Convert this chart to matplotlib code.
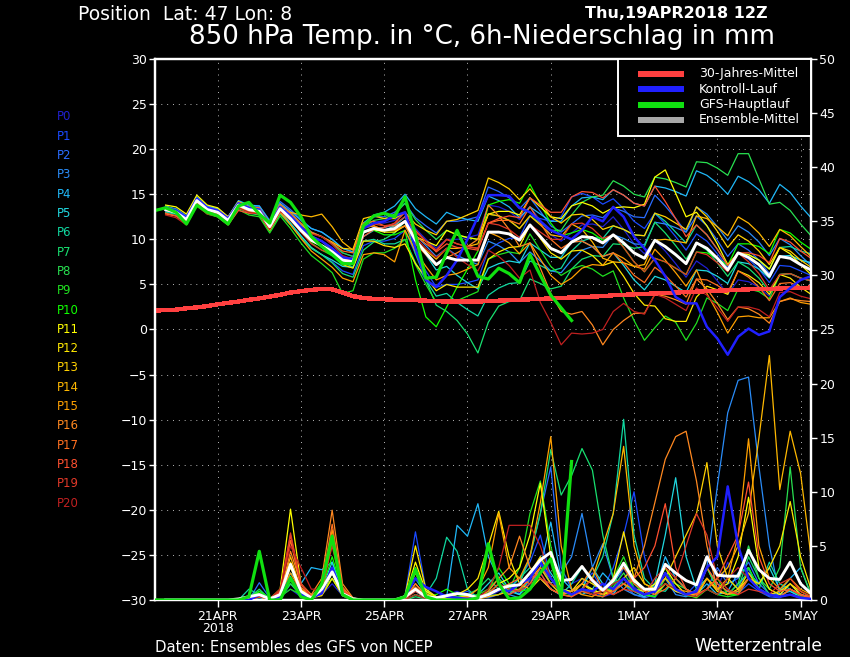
import matplotlib
matplotlib.use("Agg")
import matplotlib.pyplot as plt
from matplotlib.patches import Rectangle
from matplotlib.lines import Line2D

plt.rcParams['font.family'] = ['DejaVu Sans']

# ---------------- time axes (hours after Thu 19 APR 2018 12Z) ----------------
member_hours = list(range(6, 379, 6))     # 63 steps
main_hours = list(range(0, 241, 6))       # GFS main run to 240 h
clim_hours = list(range(0, 379, 6))

xtick_hours = [36, 84, 132, 180, 228, 276, 324, 372]
xtick_labels = ['21APR\n2018', '23APR', '25APR', '27APR', '29APR', '1MAY', '3MAY', '5MAY']

member_names = ['P%d' % i for i in range(21)]
member_colors = ['#2020d0', '#1a4aff', '#2a6cff', '#2a8cf8', '#20b8f8', '#20d8e0',
                 '#10d8a0', '#18e070', '#28e050', '#20e020', '#10ff00', '#ffff00',
                 '#ffe800', '#ffd000', '#ffb800', '#ffa000', '#ff8820', '#ff7020',
                 '#ff5030', '#e03828', '#c02020']

# ---------------- 850 hPa temperature (deg C) ----------------
temp_clim = [2.1, 2.15, 2.2, 2.35, 2.45, 2.6, 2.8, 2.95, 3.1, 3.3, 3.45, 3.65, 3.85, 4.1, 4.25, 4.4,
             4.5, 4.45, 4.1, 3.7, 3.5, 3.4, 3.35, 3.3, 3.3, 3.25, 3.2, 3.15, 3.1, 3.1, 3.1, 3.1,
             3.15, 3.2, 3.25, 3.3, 3.35, 3.4, 3.45, 3.5, 3.55, 3.6, 3.65, 3.7, 3.8, 3.85, 3.9, 3.95,
             4.0, 4.05, 4.1, 4.15, 4.2, 4.25, 4.3, 4.35, 4.4, 4.45, 4.5, 4.5, 4.55, 4.6, 4.6, 4.65]

temp_mean = [13.3, 13.0, 12.2, 14.3, 13.3, 13.0, 12.1, 13.8, 13.3, 13.1, 11.4, 13.4, 12.3, 11.0, 9.9, 9.3,
             8.6, 7.7, 7.5, 10.8, 11.2, 11.0, 11.2, 12.0, 9.9, 8.5, 7.2, 8.0, 7.7, 7.7, 7.7, 10.8,
             10.8, 10.6, 9.9, 11.6, 10.3, 9.0, 8.5, 9.7, 10.3, 10.2, 9.6, 10.5, 9.6, 8.5, 7.9, 9.9,
             9.2, 8.3, 7.3, 9.6, 9.0, 7.9, 6.6, 8.5, 8.0, 7.2, 5.9, 8.1, 7.9, 7.2, 6.6]

temp_ctrl = [13.5, 13.2, 12.4, 14.5, 13.5, 13.2, 12.3, 14.0, 13.5, 13.3, 11.6, 13.6, 12.6, 11.4, 10.3, 9.8,
             9.0, 8.0, 7.8, 11.2, 11.8, 12.0, 12.6, 13.0, 9.0, 5.5, 4.7, 6.0, 7.7, 10.0, 12.5, 14.9,
             14.9, 14.8, 13.5, 13.0, 12.0, 11.0, 10.5, 10.0, 11.0, 12.5, 12.0, 13.6, 12.5, 10.3, 9.0, 7.7,
             5.9, 3.6, 2.9, 2.9, 0.3, -1.0, -2.8, -0.8, 0.1, -0.6, -0.2, 3.6, 4.6, 5.5, 5.9]

temp_main = [13.2,
             13.5, 13.0, 11.7, 13.8, 13.0, 12.6, 11.7, 13.7, 14.1, 12.8, 11.8, 14.9, 14.1, 12.5, 10.3, 9.2,
             8.3, 7.3, 7.3, 11.5, 12.6, 12.9, 12.5, 14.7, 10.5, 5.7, 5.8, 8.5, 11.0, 8.5, 5.9, 5.6,
             6.8, 6.2, 5.2, 8.3, 6.0, 3.8, 2.4, 1.0]

temp_p0 = [13.5, 13.3, 12.5, 14.6, 13.6, 13.4, 12.5, 14.2, 13.7, 13.6, 11.9, 13.9, 12.9, 11.8, 10.8, 10.3,
           9.5, 8.5, 8.1, 11.3, 11.8, 11.8, 12.1, 13.0, 11.2, 10.0, 9.0, 10.0, 10.0, 10.2, 10.5, 13.8,
           13.6, 13.1, 12.2, 13.6, 12.1, 10.5, 9.8, 10.7, 11.6, 11.7, 11.4, 12.5, 11.1, 9.5, 8.4, 9.9,
           8.7, 7.3, 5.8, 7.6, 6.8, 5.4, 3.9, 5.5, 5.3, 4.7, 3.7, 6.1, 6.2, 5.7, 5.4]
temp_p1 = [13.1, 12.8, 11.9, 14.0, 13.1, 13.0, 12.2, 14.0, 13.3, 13.0, 11.1, 12.9, 11.7, 10.3, 9.0, 8.3,
           7.5, 6.5, 6.1, 9.3, 9.8, 9.8, 10.1, 11.0, 8.4, 6.5, 4.7, 5.0, 5.0, 5.2, 5.5, 8.8,
           9.6, 10.1, 10.2, 12.6, 12.3, 12.0, 12.5, 14.7, 15.1, 14.7, 13.9, 14.5, 13.4, 12.0, 11.2, 12.9,
           11.7, 10.3, 8.8, 10.6, 9.8, 8.4, 6.9, 8.5, 7.8, 6.7, 5.2, 7.1, 7.0, 6.5, 6.0]
temp_p2 = [13.6, 13.4, 12.6, 14.7, 13.7, 13.4, 12.4, 14.1, 13.7, 13.7, 12.1, 14.2, 13.3, 12.2, 11.2, 10.8,
           10.0, 9.0, 8.6, 11.8, 12.5, 12.5, 13.0, 14.0, 12.4, 11.5, 10.7, 12.0, 12.0, 12.2, 12.5, 15.8,
           15.3, 14.6, 13.4, 14.6, 13.1, 11.5, 10.8, 11.7, 12.6, 12.7, 12.4, 13.5, 13.1, 12.5, 12.4, 14.9,
           13.7, 12.3, 10.8, 12.6, 11.5, 9.9, 8.1, 9.5, 8.8, 7.7, 6.2, 8.1, 8.2, 7.7, 7.4]
temp_p3 = [13.1, 12.9, 12.1, 14.3, 13.2, 12.8, 11.8, 13.4, 13.1, 13.1, 11.5, 13.7, 12.7, 11.4, 10.4, 9.8,
           9.0, 8.0, 7.6, 10.8, 11.3, 11.3, 11.6, 12.5, 10.5, 9.3, 8.1, 9.0, 8.2, 7.7, 7.2, 9.8,
           9.3, 8.6, 7.4, 8.6, 7.6, 6.5, 6.3, 7.7, 8.8, 9.2, 9.1, 10.5, 10.1, 9.5, 9.4, 11.9,
           11.7, 11.3, 10.8, 13.6, 12.8, 11.4, 9.9, 11.5, 10.8, 9.7, 8.2, 10.1, 9.4, 8.2, 7.1]
temp_p4 = [13.7, 13.3, 12.5, 14.5, 13.6, 13.4, 12.5, 14.3, 13.8, 13.7, 12.0, 14.0, 13.1, 12.1, 11.2, 10.8,
           10.0, 9.0, 8.6, 11.8, 12.7, 13.0, 13.7, 15.0, 13.4, 12.5, 11.7, 13.0, 12.5, 12.2, 12.0, 14.8,
           14.3, 13.6, 12.4, 13.6, 12.8, 12.0, 12.0, 13.7, 14.6, 14.7, 14.4, 15.5, 14.9, 14.0, 13.7, 15.9,
           15.7, 15.3, 14.8, 17.6, 17.1, 16.2, 15.0, 17.0, 16.4, 15.5, 14.0, 16.1, 15.2, 13.7, 12.4]
temp_p5 = [13.4, 13.2, 12.4, 14.6, 13.5, 13.1, 12.0, 13.6, 13.1, 12.9, 11.1, 13.1, 11.8, 10.4, 9.1, 8.3,
           7.7, 7.0, 6.9, 10.3, 11.0, 11.0, 11.5, 12.5, 10.0, 8.3, 6.6, 7.0, 6.0, 5.2, 4.5, 6.8,
           7.3, 7.6, 7.4, 9.6, 8.8, 8.0, 8.0, 9.7, 9.8, 9.2, 8.1, 8.5, 7.1, 5.5, 4.4, 5.9,
           5.5, 4.8, 4.1, 6.6, 6.5, 5.9, 5.1, 7.5, 7.3, 6.7, 5.7, 8.1, 8.2, 7.7, 7.4]
temp_p6 = [13.0, 12.8, 12.0, 14.1, 13.2, 13.1, 12.3, 14.1, 13.5, 13.3, 11.5, 13.4, 12.4, 11.3, 10.3, 9.8,
           8.7, 7.5, 6.9, 9.8, 10.0, 9.5, 9.5, 10.0, 7.4, 5.5, 3.7, 4.0, 3.0, 2.2, 1.5, 3.8,
           4.6, 5.1, 5.2, 7.6, 7.1, 6.5, 6.8, 8.7, 9.8, 10.2, 10.1, 11.5, 11.1, 10.5, 10.4, 12.9,
           12.0, 10.8, 9.6, 11.6, 10.5, 8.9, 7.1, 8.5, 8.3, 7.7, 6.7, 9.1, 9.2, 8.7, 8.4]
temp_p7 = [13.5, 13.1, 12.3, 14.3, 13.2, 12.9, 11.9, 13.5, 12.9, 12.7, 10.9, 12.8, 11.6, 10.2, 9.0, 8.3,
           7.4, 6.2, 5.8, 8.8, 9.7, 10.0, 10.7, 12.0, 8.4, 5.5, 2.7, 2.0, 1.0, -0.5, -2.6, 0.8,
           2.6, 3.1, 3.2, 5.6, 5.1, 4.5, 4.8, 6.7, 7.8, 8.2, 8.1, 9.5, 9.4, 9.0, 9.2, 11.9,
           10.7, 9.3, 7.8, 9.6, 8.8, 7.4, 5.9, 7.5, 6.8, 5.7, 4.2, 6.1, 6.2, 5.7, 5.4]
temp_p8 = [13.3, 12.9, 12.1, 14.1, 13.2, 13.0, 12.2, 14.0, 13.6, 13.4, 11.8, 13.8, 12.9, 11.7, 10.8, 10.3,
           9.5, 8.5, 8.1, 11.3, 12.1, 12.3, 12.8, 14.0, 12.2, 11.0, 10.0, 11.0, 10.5, 10.2, 10.0, 12.8,
           12.6, 12.1, 11.2, 12.6, 11.8, 11.0, 11.0, 12.7, 14.1, 14.7, 14.9, 16.5, 15.9, 15.0, 14.7, 16.9,
           16.7, 16.3, 15.8, 18.6, 18.5, 17.9, 17.1, 19.5, 19.5, 16.7, 13.9, 14.1, 13.2, 11.7, 10.4]
temp_p9 = [12.9, 12.6, 11.7, 13.8, 12.8, 12.5, 11.6, 13.3, 12.7, 12.5, 10.7, 12.6, 11.2, 9.6, 8.2, 7.3,
           6.3, 4.0, 4.3, 7.8, 8.5, 8.5, 9.0, 10.0, 7.2, 5.0, 3.0, 3.0, 3.2, 3.7, 4.2, 7.8,
           8.3, 8.6, 8.4, 10.6, 8.8, 7.0, 6.0, 6.7, 7.1, 6.7, 5.9, 6.5, 3.5, 1.0, -1.2, 0.2,
           1.5, 0.8, -1.2, 0.7, 3.5, 2.9, 2.1, 4.5, 4.5, 4.2, 3.4, 6.1, 6.2, 5.7, 5.4]
temp_p10 = [13.6, 13.3, 12.4, 14.5, 13.5, 13.1, 12.2, 13.8, 13.4, 13.3, 11.7, 13.8, 12.5, 11.0, 9.6, 8.8,
            8.2, 7.5, 7.4, 10.8, 11.0, 10.5, 10.5, 11.0, 5.5, 1.4, 0.3, 2.5, 4.7, 6.7, 8.7, 13.8,
            14.2, 14.4, 14.0, 16.1, 13.9, 11.8, 10.4, 10.7, 11.1, 10.7, 9.9, 10.5, 9.1, 7.5, 6.4, 7.9,
            7.5, 6.8, 6.1, 8.6, 8.5, 7.9, 7.1, 9.5, 9.5, 9.2, 8.4, 11.1, 10.7, 9.7, 8.9]
temp_p11 = [13.8, 13.6, 12.8, 14.9, 13.8, 13.5, 12.5, 14.1, 13.6, 13.4, 11.6, 13.6, 12.6, 11.4, 10.3, 9.8,
            9.0, 8.0, 7.6, 10.8, 11.1, 10.8, 10.8, 11.5, 10.3, 9.8, 9.3, 11.0, 10.5, 10.2, 10.0, 12.8,
            13.1, 13.1, 12.7, 14.6, 13.6, 12.5, 12.3, 13.7, 14.1, 13.7, 12.9, 13.5, 13.6, 13.5, 13.9, 16.9,
            17.7, 15.1, 12.5, 13.0, 11.5, 9.5, 7.2, 8.5, 8.3, 7.7, 6.7, 9.1, 8.4, 7.2, 6.1]
temp_p12 = [13.3, 13.1, 12.3, 14.5, 13.5, 13.2, 12.2, 13.9, 13.5, 13.3, 11.7, 13.7, 12.5, 11.2, 10.0, 9.3,
            8.4, 7.2, 6.8, 9.8, 9.8, 9.3, 9.1, 9.5, 7.3, 5.8, 4.3, 5.0, 4.7, 4.7, 4.7, 7.8,
            8.6, 9.1, 9.2, 11.6, 10.1, 8.5, 7.8, 8.7, 8.8, 8.2, 7.1, 7.5, 5.9, 4.0, 2.7, 2.6,
            1.2, 0.9, 0.9, 3.6, 4.8, 4.4, 3.9, 6.5, 6.0, 5.2, 3.9, 6.1, 5.7, 4.7, 3.9]
temp_p13 = [13.3, 12.9, 12.0, 14.0, 13.1, 12.9, 12.0, 13.8, 13.4, 13.2, 11.6, 13.6, 12.7, 11.6, 10.7, 10.3,
            9.7, 9.0, 8.9, 12.3, 12.6, 12.3, 12.3, 13.0, 11.7, 11.0, 10.5, 12.0, 12.2, 12.7, 13.2, 16.8,
            16.3, 15.6, 14.4, 15.6, 14.1, 12.5, 11.8, 12.7, 12.8, 12.2, 11.1, 11.5, 11.1, 10.5, 10.4, 12.9,
            12.5, 11.8, 11.1, 13.6, 12.5, 10.9, 9.1, 10.5, 9.8, 8.7, 7.2, 9.1, 8.7, 7.7, 6.9]
temp_p14 = [13.2, 13.0, 12.2, 14.4, 13.5, 13.3, 12.4, 14.2, 13.6, 13.2, 11.4, 13.2, 13.0, 12.7, 12.5, 12.8,
            11.4, 9.7, 8.8, 11.3, 11.5, 11.0, 11.0, 11.5, 9.8, 8.8, 7.8, 9.0, 9.0, 9.2, 9.5, 12.8,
            12.6, 12.1, 11.2, 12.6, 11.6, 10.5, 10.3, 11.7, 11.1, 9.7, 7.9, 7.5, 7.4, 7.0, 7.2, 9.9,
            10.0, 9.8, 9.6, 12.6, 12.3, 11.4, 10.4, 12.5, 11.8, 10.7, 9.2, 11.1, 10.4, 9.2, 8.1]
temp_p15 = [13.3, 13.0, 12.2, 14.3, 13.2, 12.9, 11.9, 13.5, 13.0, 12.8, 11.0, 13.0, 11.6, 10.1, 8.7, 7.8,
            6.9, 5.7, 5.3, 8.3, 8.5, 8.3, 7.5, 11.0, 8.7, 7.0, 5.5, 6.0, 6.2, 6.7, 7.2, 10.8,
            10.3, 9.6, 8.4, 9.6, 7.8, 6.0, 5.0, 5.7, 6.8, 7.2, 7.1, 8.5, 7.9, 7.0, 6.7, 8.9,
            7.7, 6.3, 4.8, 6.6, 4.0, 1.9, -0.4, 1.4, 1.5, 1.3, 1.3, 3.1, 3.5, 3.0, 2.8]
temp_p16 = [12.8, 12.6, 11.8, 13.9, 13.0, 12.7, 11.9, 13.6, 13.1, 12.9, 11.1, 13.1, 12.1, 10.9, 9.8, 9.3,
            8.7, 8.0, 7.9, 11.3, 11.5, 11.0, 11.0, 11.5, 9.5, 8.3, 7.1, 8.0, 8.5, 9.2, 10.0, 13.8,
            12.6, 11.1, 9.2, 9.6, 6.8, 4.0, 2.0, 1.7, 2.0, 0.5, -1.7, 0.0, 1.0, 1.8, 1.8, 3.9,
            3.7, 3.3, 2.8, 5.6, 4.5, 2.9, 1.1, 2.5, 2.3, 1.7, 0.7, 3.1, 3.4, 3.2, 3.1]
temp_p17 = [13.6, 13.2, 12.4, 14.4, 13.4, 13.2, 12.3, 14.0, 13.6, 13.5, 11.8, 13.9, 12.9, 11.8, 10.8, 10.3,
            9.6, 8.7, 8.5, 11.8, 12.0, 11.5, 11.5, 12.0, 10.4, 9.5, 8.7, 10.0, 9.5, 9.2, 9.0, 11.8,
            12.1, 12.1, 11.7, 13.6, 11.8, 10.0, 9.0, 9.7, 9.8, 9.2, 8.1, 8.5, 7.4, 6.0, 5.2, 6.9,
            6.0, 4.8, 3.6, 5.6, 5.5, 4.9, 4.1, 6.5, 5.8, 4.7, 3.2, 5.1, 5.2, 4.7, 4.4]
temp_p18 = [12.9, 12.6, 11.8, 13.9, 12.9, 12.5, 11.6, 13.2, 12.9, 12.9, 11.4, 13.6, 12.6, 11.4, 10.3, 9.8,
            8.9, 7.7, 7.3, 10.3, 11.1, 11.3, 11.8, 13.0, 11.0, 9.8, 8.6, 9.5, 9.1, 9.0, 8.8, 11.8,
            12.3, 12.6, 12.4, 14.6, 13.8, 13.0, 13.0, 14.7, 15.3, 15.2, 14.6, 15.5, 14.9, 14.0, 13.7, 15.9,
            14.2, 12.3, 10.3, 11.6, 10.5, 8.9, 7.1, 8.5, 8.5, 8.2, 7.4, 10.1, 9.7, 8.7, 7.9]
temp_p19 = [13.3, 13.0, 12.1, 14.1, 13.2, 12.9, 12.1, 13.8, 13.3, 13.1, 11.4, 13.4, 12.2, 10.8, 9.5, 8.8,
            8.4, 7.7, 7.8, 11.3, 11.7, 11.5, 11.7, 12.5, 10.8, 9.8, 8.8, 10.0, 9.5, 9.2, 9.0, 11.8,
            11.6, 11.1, 10.2, 11.6, 10.8, 10.0, 10.0, 11.7, 11.8, 11.2, 10.1, 10.5, 9.1, 7.5, 6.4, 7.9,
            7.5, 6.8, 6.1, 8.6, 8.3, 7.4, 6.4, 8.5, 7.5, 6.2, 4.4, 6.1, 6.2, 5.7, 5.4]
temp_p20 = [12.7, 12.4, 11.6, 13.7, 12.8, 12.6, 11.7, 13.5, 13.0, 12.8, 11.1, 13.1, 12.3, 11.4, 10.6, 10.3,
            9.4, 8.2, 7.8, 10.8, 11.2, 11.0, 11.2, 12.0, 10.2, 9.0, 8.0, 9.0, 8.0, 7.2, 6.5, 8.8,
            8.1, 7.1, 5.7, 6.6, 3.0, 0.8, -1.7, -0.4, -0.5, -0.4, 0.0, 2.0, 2.9, 2.0, 1.7, 3.9,
            3.5, 2.8, 2.1, 4.6, 3.8, 2.4, 0.9, 2.5, 2.5, 2.2, 1.4, 4.1, 4.2, 3.7, 3.4]

# ---------------- 6h precipitation (mm) ----------------
prec_mean = [0, 0, 0, 0, 0, 0, 0, 0.1, 0.3, 0.5, 0.1, 0.5, 3.3, 0.8, 0.2, 1.0,
             2.6, 0.6, 0.1, 0, 0, 0, 0, 0.3, 1.0, 0.3, 0.2, 0.4, 0.6, 0.5, 0.2, 0.5,
             1.0, 1.3, 1.4, 2.5, 3.7, 4.4, 1.8, 1.9, 3.1, 1.8, 0.9, 1.8, 3.4, 1.8, 1.0, 1.0,
             3.3, 2.5, 1.8, 1.4, 4.0, 2.3, 2.2, 2.2, 4.6, 2.8, 2.0, 1.9, 3.5, 1.5, 0.6]
prec_ctrl = [0, 0, 0, 0, 0, 0, 0, 0, 0, 0.5, 0.1, 0.3, 2.0, 0.5, 0.2, 0.6,
             3.0, 0.5, 0, 0, 0, 0, 0, 0.3, 2.0, 1.2, 0.8, 0.3, 0.2, 0.1, 0.2, 0.5,
             1.0, 0.8, 1.5, 2.0, 3.5, 2.0, 1.0, 0.5, 1.0, 0.8, 1.5, 1.0, 2.0, 1.0, 0.5, 0.8,
             2.5, 1.0, 0.5, 0.8, 3.0, 4.0, 10.5, 5.0, 2.0, 1.0, 0.5, 0.3, 0.5, 0.2, 0.1]
prec_main = [0,
             0, 0, 0, 0, 0, 0, 0, 0, 0.3, 4.5, 0, 0, 2.0, 0.3, 0, 1.5,
             5.9, 0.5, 0, 0, 0, 0, 0, 0.3, 2.8, 0.3, 0, 0, 0, 0, 0.2, 5.2,
             1.5, 0.1, 0.2, 1.0, 2.5, 3.8, 0.2, 12.8]

prec_p0 = [0, 0, 0, 0, 0, 0, 0, 0, 0, 0.5, 0.2, 0.3, 1.0, 0.3, 0.2, 0.5,
           1.5, 0.4, 0, 0, 0, 0, 0, 0.2, 2.5, 0.8, 0.3, 0.5, 0.8, 0.4, 0.2, 0.3,
           0.8, 1.5, 0.6, 1.8, 2.5, 1.0, 0.4, 1.5, 2.0, 0.8, 0.3, 0.6, 3.0, 1.2, 0.5, 0.2,
           1.5, 0.8, 0.4, 0.3, 2.0, 1.0, 3.5, 1.2, 2.8, 1.0, 0.5, 0.3, 1.0, 0.4, 0.2]
prec_p1 = [0, 0, 0, 0, 0, 0, 0, 0, 0, 0.3, 0, 0.2, 2.0, 0.5, 0.2, 0.8,
           2.0, 0.5, 0.1, 0, 0, 0, 0, 0.4, 6.3, 1.0, 0.3, 0.2, 0.5, 0.8, 0.3, 0.2,
           0.5, 1.2, 2.0, 3.5, 6.0, 2.0, 0.5, 0.8, 1.5, 2.5, 1.0, 3.0, 6.0, 10.0, 4.0, 1.0,
           2.0, 0.8, 0.5, 1.5, 3.0, 1.5, 0.8, 0.6, 1.5, 0.8, 0.3, 0.2, 1.0, 0.5, 0.2]
prec_p2 = [0, 0, 0, 0, 0, 0, 0, 0, 0, 1.6, 0.2, 0.1, 1.5, 0.4, 0.5, 1.0,
           3.0, 0.6, 0, 0, 0, 0, 0, 0.3, 2.0, 0.5, 0.2, 0.1, 0.2, 0.5, 0.3, 0.8,
           1.0, 0.5, 1.5, 4.0, 8.0, 12.3, 3.0, 1.0, 0.8, 0.5, 1.0, 2.0, 1.5, 0.5, 0.2, 0.5,
           2.5, 1.0, 0.5, 0.3, 1.0, 3.0, 1.5, 2.0, 3.5, 1.5, 0.6, 0.5, 1.5, 0.5, 0.3]
prec_p3 = [0, 0, 0, 0, 0, 0, 0, 0, 0, 0.3, 0, 0.2, 2.0, 0.6, 0.3, 0.5,
           2.5, 0.5, 0, 0, 0, 0, 0, 0.1, 1.5, 0.4, 0.2, 0.1, 0.3, 0.2, 0.2, 0.6,
           1.5, 0.5, 0.2, 1.0, 3.0, 1.5, 2.5, 4.0, 8.0, 3.0, 5.2, 2.0, 1.0, 0.5, 0.3, 0.8,
           2.0, 0.5, 0.3, 1.0, 3.0, 10.5, 17.3, 20.3, 20.6, 12.3, 5.0, 0.5, 0.8, 0.3, 0.1]
prec_p4 = [0, 0, 0, 0, 0, 0, 0, 0, 0, 0.2, 0, 0.3, 2.5, 1.5, 3.0, 2.8,
           3.5, 0.8, 0.2, 0, 0, 0, 0, 0.2, 0.8, 0.2, 0, 0.3, 6.9, 5.9, 8.9, 4.0,
           2.0, 0.8, 0.5, 1.5, 3.0, 7.2, 2.0, 1.0, 0.5, 1.0, 2.5, 1.5, 3.0, 2.0, 0.5, 0.8,
           4.0, 2.0, 1.0, 0.5, 1.5, 0.5, 0.8, 2.5, 3.0, 1.0, 0.4, 0.8, 2.0, 3.0, 0.5]
prec_p5 = [0, 0, 0, 0, 0, 0, 0, 0, 0, 0.3, 0.1, 0.5, 2.0, 0.5, 0.3, 1.0,
           3.5, 0.6, 0.1, 0, 0, 0, 0, 0, 0.5, 0.2, 0, 0, 0.2, 0.1, 0.5, 1.5,
           2.5, 1.0, 0.5, 2.0, 4.0, 2.5, 1.0, 0.5, 1.0, 3.0, 1.5, 0.5, 2.0, 0.8, 0.3, 1.5,
           6.0, 11.3, 4.0, 1.0, 2.0, 1.0, 0.5, 1.5, 2.5, 1.5, 3.0, 1.0, 0.8, 0.3, 0.2]
prec_p6 = [0, 0, 0, 0, 0, 0, 0, 0, 1.0, 0.5, 0.1, 0.4, 2.0, 0.6, 0.2, 0.8,
           2.5, 0.5, 0, 0, 0, 0, 0, 0.1, 2.0, 0.5, 2.0, 5.8, 4.5, 1.0, 0.2, 0.3,
           0.5, 1.0, 2.0, 3.0, 2.0, 1.0, 0.5, 1.5, 3.0, 2.0, 4.0, 8.0, 16.7, 6.0, 2.0, 1.0,
           0.8, 2.0, 1.0, 0.5, 3.0, 1.0, 0.5, 0.8, 2.0, 1.0, 3.5, 1.5, 1.0, 0.5, 0.3]
prec_p7 = [0, 0, 0, 0, 0, 0, 0, 0, 0.2, 1.0, 0.1, 0.5, 2.2, 0.5, 0.3, 0.7,
           3.0, 0.5, 0, 0, 0, 0, 0, 0, 0.3, 0.1, 0, 0, 0.2, 0.5, 1.0, 2.0,
           1.0, 0.5, 1.5, 4.0, 8.0, 13.9, 9.7, 11.5, 14.0, 12.0, 6.0, 2.0, 1.5, 0.8, 0.5, 1.0,
           2.0, 1.0, 0.4, 0.3, 1.0, 0.5, 2.0, 1.0, 4.0, 2.0, 0.5, 0.3, 0.5, 0.2, 0.1]
prec_p8 = [0, 0, 0, 0, 0, 0, 0, 0, 0.3, 0.8, 0.1, 0.2, 1.5, 0.5, 0.3, 0.6,
           2.0, 0.4, 0, 0, 0, 0, 0, 0.2, 3.0, 0.8, 0.2, 0.1, 0.3, 0.2, 0.1, 0.4,
           0.5, 1.0, 0.8, 2.0, 3.5, 1.5, 0.5, 0.8, 1.5, 1.0, 0.5, 1.2, 2.5, 1.0, 0.5, 0.3,
           2.0, 1.5, 1.0, 0.5, 3.0, 1.0, 0.5, 1.5, 5.0, 2.0, 1.0, 3.0, 12.3, 3.0, 0.5]
prec_p9 = [0, 0, 0, 0, 0, 0, 0, 0, 0.1, 0.6, 0.1, 0.3, 1.0, 0.5, 0.2, 0.5,
           2.0, 0.5, 0, 0, 0, 0, 0, 0, 0.5, 0.1, 0, 0, 0.1, 0.3, 0.5, 1.0,
           2.0, 1.0, 3.0, 8.0, 11.0, 5.0, 1.0, 0.5, 0.8, 0.5, 0.3, 2.0, 4.0, 1.5, 0.5, 1.0,
           3.0, 1.0, 0.5, 0.5, 1.0, 0.5, 0.3, 0.5, 2.0, 1.0, 0.5, 0.3, 0.5, 0.2, 0.1]
prec_p10 = [0, 0, 0, 0, 0, 0, 0, 0, 0, 0.8, 0.1, 0.6, 2.0, 0.8, 0.3, 1.0,
            4.0, 0.8, 0.1, 0, 0, 0, 0, 0.1, 1.0, 0.3, 0.5, 1.0, 0.5, 0.3, 0.2, 0.8,
            3.0, 1.5, 0.8, 1.0, 2.0, 1.0, 0.5, 0.4, 1.0, 0.5, 0.3, 1.5, 3.5, 1.0, 0.5, 0.3,
            1.5, 1.0, 0.5, 0.2, 1.0, 2.0, 0.5, 0.5, 3.0, 1.0, 0.5, 0.3, 1.0, 0.4, 0.2]
prec_p11 = [0, 0, 0, 0, 0, 0, 0, 0, 0, 0.5, 0.1, 1.0, 8.4, 1.5, 0.2, 0.5,
            2.5, 0.5, 0, 0, 0, 0, 0, 0.2, 3.5, 0.8, 0.3, 0.1, 0.2, 0.3, 0.3, 0.6,
            1.5, 2.0, 3.0, 6.0, 10.8, 4.0, 1.0, 0.8, 1.5, 1.0, 0.5, 0.8, 2.0, 1.0, 0.8, 1.5,
            3.0, 1.5, 0.5, 0.5, 2.0, 1.0, 1.5, 4.0, 9.5, 3.0, 1.0, 0.5, 1.5, 0.5, 0.2]
prec_p12 = [0, 0, 0, 0, 0, 0, 0, 0, 0, 0.3, 0, 0.5, 3.0, 0.8, 0.2, 0.4,
            2.0, 0.4, 0, 0, 0, 0, 0, 0.4, 5.0, 1.0, 0.3, 0.2, 0.5, 1.0, 2.0, 5.0,
            8.2, 4.0, 1.5, 1.0, 2.0, 1.0, 0.5, 0.8, 2.0, 1.5, 0.8, 2.0, 6.3, 2.0, 1.0, 0.5,
            1.5, 0.8, 0.5, 0.3, 2.0, 0.8, 0.5, 1.0, 2.0, 1.5, 3.0, 5.0, 9.1, 4.0, 1.0]
prec_p13 = [0, 0, 0, 0, 0, 0, 0, 0, 0, 0.4, 0.1, 0.8, 3.5, 1.0, 0.3, 0.5,
            3.0, 0.5, 0, 0, 0, 0, 0, 0.3, 2.5, 0.6, 0.2, 0.1, 0.2, 0.4, 0.3, 0.5,
            1.0, 0.8, 1.5, 2.5, 4.0, 2.0, 0.8, 0.5, 1.5, 0.8, 0.5, 1.0, 2.0, 3.0, 1.5, 1.0,
            2.0, 4.0, 6.0, 8.0, 12.7, 5.0, 2.0, 1.0, 2.5, 1.0, 0.5, 0.8, 1.5, 0.8, 0.3]
prec_p14 = [0, 0, 0, 0, 0, 0, 0, 0, 0, 0.3, 0, 0.6, 4.0, 1.0, 0.3, 0.8,
            5.5, 1.0, 0.1, 0, 0, 0, 0, 0.2, 1.5, 0.4, 0.1, 0, 0.1, 0.2, 0.1, 0.3,
            0.5, 0.8, 1.0, 2.0, 3.0, 1.5, 0.5, 0.3, 1.0, 2.0, 5.0, 8.0, 14.2, 5.0, 1.5, 1.0,
            2.0, 1.0, 0.5, 0.5, 1.0, 2.0, 3.0, 5.0, 8.0, 15.0, 22.6, 10.2, 15.6, 11.7, 4.0]
prec_p15 = [0, 0, 0, 0, 0, 0, 0, 0, 0, 0.4, 0.1, 0.6, 2.5, 0.8, 0.4, 1.2,
            6.5, 1.0, 0.1, 0, 0, 0, 0, 0.1, 1.0, 0.3, 0.1, 0, 0.1, 0.3, 1.0, 3.0,
            8.0, 3.0, 2.0, 4.0, 9.0, 15.1, 5.0, 1.0, 0.5, 0.3, 1.0, 0.8, 1.5, 1.0, 0.5, 1.0,
            2.5, 1.0, 0.8, 0.5, 2.0, 1.0, 2.0, 6.0, 14.9, 5.0, 2.0, 1.0, 2.0, 1.0, 0.5]
prec_p16 = [0, 0, 0, 0, 0, 0, 0, 0, 0.1, 0.5, 0.1, 0.5, 4.5, 1.5, 0.5, 2.0,
            8.3, 1.5, 0.2, 0, 0, 0, 0, 0.2, 1.2, 0.3, 0.1, 0, 0.1, 0.2, 0.3, 0.8,
            2.0, 3.0, 5.9, 3.0, 2.0, 1.0, 0.5, 0.8, 1.5, 3.0, 1.0, 0.5, 1.0, 2.0, 5.0, 9.0,
            13.0, 15.1, 15.6, 11.0, 5.0, 1.0, 0.5, 0.8, 2.0, 1.0, 0.5, 0.3, 1.0, 0.5, 0.2]
prec_p17 = [0, 0, 0, 0, 0, 0, 0, 0, 0, 0.5, 0.1, 0.8, 5.5, 1.2, 0.3, 1.5,
            7.0, 1.2, 0.1, 0, 0, 0, 0, 0.1, 1.5, 0.4, 0.1, 0, 0.1, 0.2, 0.2, 0.5,
            1.0, 1.5, 2.0, 1.5, 3.0, 2.0, 1.0, 0.5, 1.0, 0.8, 0.5, 2.0, 3.0, 1.5, 0.8, 0.5,
            1.0, 2.0, 1.0, 0.5, 3.0, 1.5, 0.8, 0.5, 2.0, 1.0, 0.5, 0.3, 1.0, 0.5, 0.2]
prec_p18 = [0, 0, 0, 0, 0, 0, 0, 0, 0, 0.3, 0.1, 0.7, 6.0, 1.5, 0.3, 1.0,
            6.0, 1.0, 0.1, 0, 0, 0, 0, 0.1, 1.0, 0.3, 0.1, 0, 0.1, 0.1, 0.2, 0.4,
            1.0, 0.5, 1.0, 2.0, 2.5, 1.0, 0.5, 0.3, 0.8, 0.5, 0.3, 0.8, 1.5, 2.0, 3.0, 5.0,
            8.9, 3.0, 1.0, 0.5, 1.0, 2.0, 4.0, 6.0, 10.9, 4.0, 1.5, 0.8, 1.0, 0.5, 0.2]
prec_p19 = [0, 0, 0, 0, 0, 0, 0, 0, 0, 0.4, 0.1, 0.8, 6.2, 1.5, 0.3, 1.0,
            5.0, 0.8, 0.1, 0, 0, 0, 0, 0.1, 0.8, 0.2, 0, 0, 0.1, 0.1, 0.2, 0.5,
            1.5, 1.0, 0.8, 1.5, 2.0, 1.5, 1.0, 0.5, 1.0, 2.0, 1.0, 0.5, 1.0, 0.8, 0.5, 2.0,
            3.0, 2.0, 5.0, 8.0, 6.0, 2.0, 1.0, 0.5, 1.0, 0.8, 0.5, 1.5, 2.0, 0.8, 0.3]
prec_p20 = [0, 0, 0, 0, 0, 0, 0, 0, 0, 0.3, 0.1, 1.0, 5.0, 3.0, 1.0, 1.0,
            3.0, 0.5, 0.1, 0, 0, 0, 0, 0, 0.5, 0.1, 0, 0, 0.1, 0.1, 0.2, 1.0,
            3.0, 6.9, 6.9, 6.9, 5.0, 2.0, 1.0, 0.5, 1.0, 0.5, 0.8, 1.5, 2.0, 1.0, 0.5, 0.8,
            1.5, 1.0, 0.5, 0.3, 1.0, 0.5, 2.0, 3.0, 2.0, 1.0, 0.5, 0.3, 0.5, 0.3, 0.1]

member_temps = [temp_p0, temp_p1, temp_p2, temp_p3, temp_p4, temp_p5, temp_p6, temp_p7,
                temp_p8, temp_p9, temp_p10, temp_p11, temp_p12, temp_p13, temp_p14,
                temp_p15, temp_p16, temp_p17, temp_p18, temp_p19, temp_p20]
member_precs = [prec_p0, prec_p1, prec_p2, prec_p3, prec_p4, prec_p5, prec_p6, prec_p7,
                prec_p8, prec_p9, prec_p10, prec_p11, prec_p12, prec_p13, prec_p14,
                prec_p15, prec_p16, prec_p17, prec_p18, prec_p19, prec_p20]

legend_labels = ['30-Jahres-Mittel', 'Kontroll-Lauf', 'GFS-Hauptlauf', 'Ensemble-Mittel']
legend_colors = ['#ff4040', '#2020ff', '#10e010', '#a8a8a8']

# ---------------- figure ----------------
W, H = 850, 657
fig = plt.figure(figsize=(W / 100, H / 100), dpi=100, facecolor='black')
L, R, B, T = 155.2, 811.0, 600.0, 59.0
ax = fig.add_axes([L / W, 1 - B / H, (R - L) / W, (B - T) / H])
ax.set_facecolor('black')
ax.set_xlim(0, 378)
ax.set_ylim(-30, 30)
ax.set_yticks(list(range(-30, 31, 5)))
ax.set_yticklabels([str(v).replace('-', '\u2212') for v in range(-30, 31, 5)])
ax.set_xticks(xtick_hours)
ax.set_xticklabels(xtick_labels, linespacing=0.95)
ax.grid(True, color='#b8b8b8', linestyle=(0, (1.0, 5.0)), linewidth=0.7)
ax.tick_params(axis='y', colors='white', direction='out', length=4, width=1, labelsize=9, pad=2)
ax.tick_params(axis='x', colors='white', direction='out', length=5, width=1, labelsize=9, pad=2)

ax2 = ax.twinx()
ax2.set_ylim(0, 50)
ax2.set_yticks(list(range(0, 51, 5)))
ax2.tick_params(axis='y', colors='white', direction='out', length=4, width=1, labelsize=9, pad=2)

for a in (ax, ax2):
    for s in a.spines.values():
        s.set_color('white')
        s.set_linewidth(1.6)

# members: temperature and precipitation (thin lines)
for temps, precs, col in zip(member_temps, member_precs, member_colors):
    ax.plot(member_hours, temps, color=col, lw=0.9, zorder=2, antialiased=True)
    ax2.plot(member_hours, precs, color=col, lw=0.9, zorder=2, antialiased=True)

ax.plot(clim_hours, temp_clim, color='#ff4040', lw=2.4, zorder=4, solid_capstyle='butt',
        antialiased=False)
ax.plot(member_hours, temp_ctrl, color='#2020ff', lw=1.8, zorder=5)
ax.plot(member_hours, temp_mean, color='white', lw=2.1, zorder=6)
ax.plot(main_hours, temp_main, color='#10e010', lw=2.3, zorder=7)

ax2.plot(member_hours, prec_ctrl, color='#2020ff', lw=1.8, zorder=5)
ax2.plot(member_hours, prec_mean, color='white', lw=2.1, zorder=6)
ax2.plot(main_hours, prec_main, color='#10e010', lw=2.3, zorder=7)

# legend box (top right, inside plot)
x0 = (618 - L) / (R - L)
y0 = (B - 135.7) / (B - T)
ax2.add_patch(Rectangle((x0, y0), 1 - x0, 1 - y0, transform=ax2.transAxes,
                        facecolor='black', edgecolor='white', lw=1.4, zorder=20, clip_on=False))
for k, (lab, col) in enumerate(zip(legend_labels, legend_colors)):
    yy = (B - (74 + 15.3 * k)) / (B - T)
    ax2.add_line(Line2D([(641 - L) / (R - L), (681 - L) / (R - L)], [yy, yy],
                        transform=ax2.transAxes, color=col, lw=3.0, zorder=21, clip_on=False,
                        antialiased=False))
    ax2.text((699 - L) / (R - L), yy, lab, transform=ax2.transAxes, color='white',
             fontsize=9, va='center', ha='left', zorder=22)

# member names on the left
for i, (nm, col) in enumerate(zip(member_names, member_colors)):
    fig.text(57 / W, 1 - (116.7 + 19.33 * i) / H, nm, color=col, fontsize=8.5,
             va='center', ha='left')

# titles and footer
fig.text(78 / W, 1 - 14 / H, 'Position  Lat: 47 Lon: 8', color='white', fontsize=13.5,
         va='center', ha='left')
fig.text(768 / W, 1 - 14 / H, 'Thu,19APR2018 12Z', color='white', fontsize=11.5,
         fontweight='bold', va='center', ha='right')
fig.text(482 / W, 1 - 37 / H, '850 hPa Temp. in \u00b0C, 6h-Niederschlag in mm', color='white',
         fontsize=18.8, va='center', ha='center')
fig.text(155 / W, 1 - 647 / H, 'Daten: Ensembles des GFS von NCEP', color='white', fontsize=10.7,
         va='center', ha='left')
fig.text(822 / W, 1 - 646 / H, 'Wetterzentrale', color='white', fontsize=12.3,
         va='center', ha='right')

fig.savefig('out.png', dpi=100, facecolor='black')
